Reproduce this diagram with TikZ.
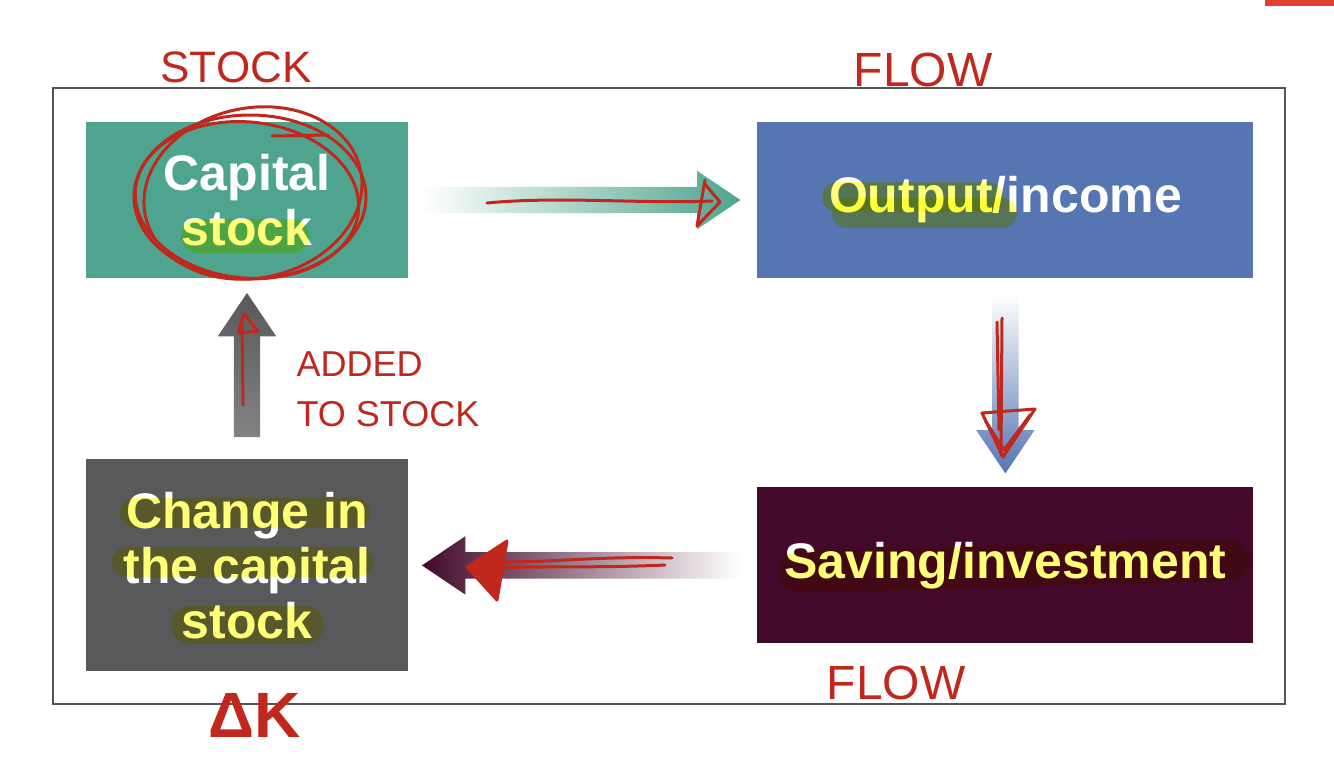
\documentclass[tikz,border=0pt]{standalone}
\usepackage{fontspec}
\setmainfont{Liberation Sans}
\usetikzlibrary{positioning, shapes.arrows}
\definecolor{tealbox}{RGB}{78,164,142}
\definecolor{bluebox}{RGB}{86,117,179}
\definecolor{maroonbox}{RGB}{66,9,43}
\definecolor{graybox}{RGB}{88,89,91}
\definecolor{hiyellow}{RGB}{255,255,120}
\definecolor{inkred}{RGB}{192,40,30}
\definecolor{framegray}{RGB}{85,85,85}
\definecolor{cornerred}{RGB}{224,64,48}
\tikzset {
    x=1pt, y=-1pt,
    box/.style={rectangle, inner sep=0pt, text=white, align=center, font=\fontsize{50}{55}\selectfont\bfseries},
    blockarrow/.style={single arrow, draw=none, anchor=tail, inner sep=13pt, single arrow head extend=16pt, single arrow tip angle=68},
    highlight/.style={draw=hiyellow, line cap=round, blend mode=multiply},
    ink/.style={draw=inkred, line width=3pt, line cap=round, line join=round},
    hand/.style={text=inkred, font=\fontsize{44}{50}\selectfont}
}

\begin{document}
\begin{tikzpicture}
                \useasboundingbox (0,0) rectangle (1334,758);
                \fill[cornerred] (1265,0) rectangle (1334,6);
                \draw[framegray, line width=1.5pt] (53,88) rectangle (1285,704);

                \node[box, fill=tealbox, minimum width=322pt, minimum height=156pt] (cap) at (247,200) {Capital\\stock};
                \node[box, fill=bluebox, minimum width=496pt, minimum height=156pt, right=349pt of cap] (out) {Output/income};
                \node[box, fill=maroonbox, minimum width=496pt, minimum height=156pt, below=209pt of out] (sav) {Saving/investment};
                \node[box, fill=graybox, minimum width=322pt, minimum height=212pt, below=181pt of cap] (chg) {Change in\\the capital\\stock};

                \draw[highlight, line width=34pt] (198,236) -- (292,236);
                \draw[highlight, line width=30pt] (837,197) -- (988,197);
                \draw[highlight, line width=30pt] (847,213) -- (1002,213);
                \draw[highlight, line width=42pt] (800,572) -- (1228,560);
                \draw[highlight, line width=30pt] (135,513) -- (355,513);
                \draw[highlight, line width=30pt] (127,562) -- (358,562);
                \draw[highlight, line width=38pt] (190,625) -- (305,625);

                \path (cap.east) -- (out.west) node[pos=0, blockarrow, xshift=14pt, minimum height=318pt, left color=white, right color=tealbox] (a1) {};
                \path (out.south) -- (sav.north) node[pos=0, blockarrow, yshift=-15pt, shape border rotate=270, minimum height=180pt, top color=white, bottom color=bluebox] (a2) {};
                \path (sav.west) -- (chg.east) node[pos=0, blockarrow, xshift=-17pt, shape border rotate=180, minimum height=318pt, left color=maroonbox, right color=white] (a3) {};
                \path (chg.north) -- (cap.south) node[pos=0, blockarrow, yshift=22pt, shape border rotate=90, minimum height=144pt, top color=graybox, bottom color=graybox!75] (a4) {};

                \node[hand] (stocklabel) at (236,67) {STOCK};
                \node[hand, font=\fontsize{48}{50}\selectfont] (flowtop) at (923,70) {FLOW};
                \node[hand, font=\fontsize{48}{50}\selectfont] (flowbottom) at (896,683) {FLOW};
                \node[hand, font=\fontsize{36}{50}\selectfont, align=left, anchor=west] (added) at (293,389) {ADDED\\TO STOCK};
                \node[hand, font=\fontsize{64}{64}\selectfont\bfseries] (deltak) at (255,715) {ΔK};

                \draw[ink] (250,197) ellipse [x radius=116, y radius=82];
                \draw[ink, rotate around={12:(253,193)}] (253,193) ellipse [x radius=110, y radius=85];
                \draw[ink, rotate around={-6:(247,200)}] (247,200) ellipse [x radius=112, y radius=78];
                \draw[ink] (272,136) -- (328,135);

                \draw[ink] (487,203) .. controls (560,196) and (640,204) .. (712,201);
                \draw[ink] (705,180) -- (697,226) -- (720,202) -- (704,183);

                \draw[ink] (1002,318) -- (1001,455);
                \draw[ink] (997,322) -- (999,430);
                \draw[ink] (982,413) -- (1035,409) -- (1003,457) -- cycle;
                \draw[ink] (985,420) -- (1004,450) -- (1030,415);

                \draw[ink] (672,558) .. controls (600,556) and (560,562) .. (500,562);
                \draw[ink] (665,565) .. controls (600,568) and (540,566) .. (495,568);
                \filldraw[ink, fill=inkred] (507,541) -- (467,567) -- (497,600) -- cycle;

                \draw[ink] (243,405) -- (242,318);
                \draw[ink] (238,333) -- (244,314) -- (258,331) -- (240,333);
\end{tikzpicture}
\end{document}
